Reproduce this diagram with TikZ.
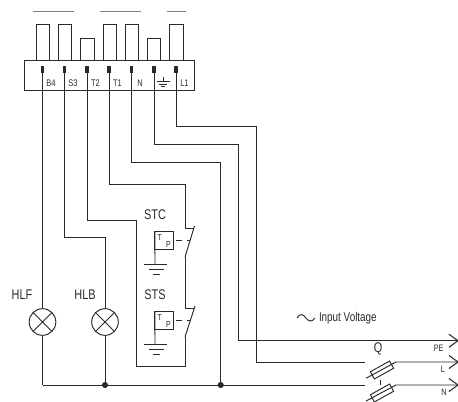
\documentclass[tikz,border=0pt]{standalone}
\usepackage{fontspec}
\usetikzlibrary{calc}
\setmainfont[FakeStretch=0.78]{Liberation Sans}
\definecolor{wirecol}{HTML}{2A2A2A}
\begin{document}
\begin{tikzpicture}[x=0.75pt,y=-0.75pt,line join=miter,color=wirecol,line width=0.72pt,
  every node/.style={inner sep=0pt,outer sep=0pt,text=wirecol},
  termlabel/.style={font=\fontsize{7.2}{8}\selectfont},
  biglabel/.style={font=\fontsize{10.5}{12}\selectfont},
  smalllabel/.style={font=\fontsize{7}{8}\selectfont},
  screw/.style={fill=wirecol,draw=none,minimum width=2.6pt,minimum height=5.6pt},
  lamp/.style={circle,draw,minimum size=20pt},
  sensor/.style={draw,minimum width=13.6pt,minimum height=13.2pt},
  junction/.style={circle,fill=wirecol,draw=none,minimum size=4.6pt},
  openarrow/.style={line width=0.8pt},
  fuse/.style={draw,minimum width=16.5pt,minimum height=6.2pt,rotate=29},
  sensortext/.style={font=\fontsize{6.5}{7}\selectfont}]
\useasboundingbox (0,0) rectangle (458,401);
% top bars
\draw[gray] (33,11) -- (74,11) (100,11) -- (141,11) (167,11) -- (186,11);
% pins
\foreach \xa/\xb/\yt in {36/49/24.5,58/71/24.5,80/94/38,103/116/24.5,125/138/24.5,147/160/38,169/183/24.5}
  \draw (\xa,60) -- (\xa,\yt) -- (\xb,\yt) -- (\xb,60);
% terminal block
\node[draw,minimum width=127.5pt,minimum height=23.2pt,anchor=north west] (block) at (24.5,60) {};
\foreach \n/\x/\t in {b/42.5/B4,s/64.5/S3,t/87/T2,u/109/T1,n/131.5/N,g/154/,l/176/L1}{
  \node[screw] (\n) at (\x,69.5) {};
  \node[termlabel,anchor=center] (lab\n) at (\x+8.5,83) {\t};
}
% earth symbol in the block
\draw (163,77) -- (163,81.5) (156.5,81.5) -- (169.5,81.5) (159,84) -- (167,84) (161,86.5) -- (165,86.5);
% lamps
\node[lamp] (hlf) at (42.5,322) {};
\node[lamp] (hlb) at (105,322) {};
\foreach \l in {hlf,hlb}{
  \draw (\l.45) -- (\l.225) (\l.135) -- (\l.315);
}
\node[biglabel] (hlft) at (22,294.5) {HLF};
\node[biglabel] (hlbt) at (85,294.5) {HLB};
% bottom bus
\coordinate (nstart) at (42.5,385);
\coordinate (nend) at (365,385);
\coordinate (lend) at (365,362);
\coordinate (j1) at (105,385);
\coordinate (j2) at (220.7,385);
\draw (nstart) -- (nend);
\node[junction] (jd1) at (j1) {};
\node[junction] (jd2) at (j2) {};
% wires
\draw (b) -- (hlf);
\draw (hlf) -- (nstart);
\draw (s) -- (64.5,237) -- (105,237) -- (hlb);
\draw (hlb) -- (jd1);
\draw (t) -- (87,220) -- (136,220) -- (136,366.7) -- (185,366.7) -- (185,337);
\draw (u) -- (109,184.7) -- (185,184.7) -- (185,228) -- (194,228);
\draw (n) -- (131.5,162) -- (220.7,162) -- (jd2);
\draw (g) -- (154,144) -- (238,144) -- (238,340.7) -- (457,340.7);
\draw (l) -- (176,126.7) -- (256,126.7) -- (256,362) -- (lend);
% switches
\draw (185,257) -- (194.5,226);
\draw (185,257) -- (185,308) -- (194,308);
\draw (185,337) -- (195,306);
% sensors
\node[sensor] (stc) at (164,240.5) {};
\node[sensor] (sts) at (164,320.5) {};
\foreach \s/\ya/\yb/\yc/\yd in {stc/240/264.5/269.3/274,sts/320/344.7/349.3/354}{
  \draw (\s.north west -| \s.west) -- (\s.north east);
  \node[sensortext] at ($(\s.center)+(-4.3,-3.3)$) {T};
  \node[sensortext] at ($(\s.center)+(4.3,4)$) {P};
  \draw (\s.north west) -- (155,\yb);
  \draw (144,\yb) -- (167,\yb) (148.7,\yc) -- (163.7,\yc) (153,\yd) -- (160,\yd);
  \draw (176,\ya) -- (182,\ya) (187,\ya) -- (190,\ya);
}
\node[biglabel] (stct) at (155,215) {STC};
\node[biglabel] (stst) at (155,295) {STS};
% fuses
\draw (366,378.3) -- (396,362) -- (457,362);
\draw (366,401) -- (396,385) -- (457,385);
\node[fuse] (f1) at (382,370) {};
\node[fuse] (f2) at (382,393) {};
\draw (380,380) -- (380,385);
% arrow heads
\foreach \y/\t/\xt in {340.7/PE/438.7,362/L/443,385/N/444}{
  \draw[openarrow] (449,\y-6.5) -- (458,\y) -- (449,\y+6.5);
  \node[smalllabel] at (\xt,\y+7.5) {\t};
}
\node[biglabel] (q) at (378,349) {Q};
% input voltage
\node[font=\fontsize{9.5}{11}\selectfont,anchor=west] (iv) at (319,318) {Input Voltage};
\draw (297,318) .. controls (300,313) and (303,314) .. (306,318) .. controls (309,322) and (312,322) .. (315,318);
\end{tikzpicture}
\end{document}
